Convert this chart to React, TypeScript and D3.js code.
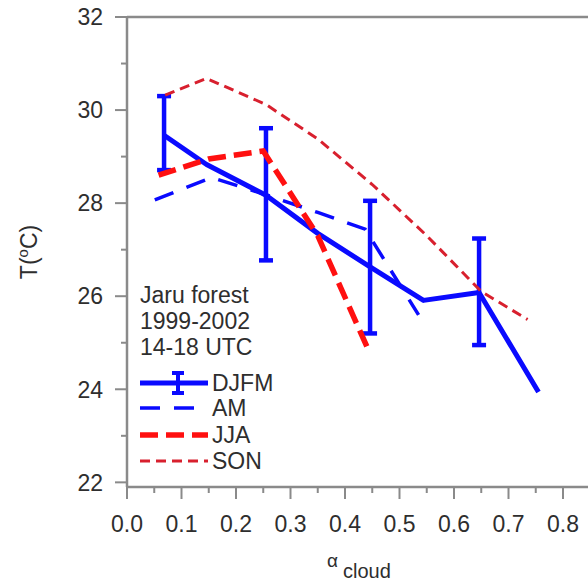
import React from "react";
import * as d3 from "d3";

// ---- data ----
const djfmX = [0.068, 0.146, 0.255, 0.35, 0.446, 0.544, 0.646, 0.755];
const djfmT = [29.46, 28.83, 28.17, 27.35, 26.63, 25.91, 26.08, 23.94];
const djfmErrX = [0.068, 0.255, 0.446, 0.646];
const djfmErrHigh = [30.3, 29.61, 28.05, 27.24];
const djfmErrLow = [28.71, 26.77, 25.2, 24.95];

const amX = [0.051, 0.155, 0.255, 0.35, 0.437, 0.535];
const amT = [28.07, 28.55, 28.18, 27.8, 27.44, 25.6];

const jjaX = [0.058, 0.15, 0.25, 0.35, 0.44];
const jjaT = [28.6, 28.95, 29.12, 27.3, 24.92];

const sonX = [0.07, 0.146, 0.255, 0.35, 0.45, 0.55, 0.65, 0.735];
const sonT = [30.32, 30.68, 30.12, 29.38, 28.4, 27.3, 26.1, 25.5];

const yMajorTicks = [22, 24, 26, 28, 30, 32];
const yMinorTicks = [23, 25, 27, 29, 31];
const xMajorTicks = [0, 0.1, 0.2, 0.3, 0.4, 0.5, 0.6, 0.7, 0.8];
const xMinorTicks = [0.05, 0.15, 0.25, 0.35, 0.45, 0.55, 0.65, 0.75, 0.85];

const annotation = ["Jaru forest", "1999-2002", "14-18 UTC"];
const legendNames = ["DJFM", "AM", "JJA", "SON"];

// ---- layout ----
const W = 588;
const H = 584;
const left = 127;
const top = 17;
const bottom = 487;
const right = 620;

const BLUE = "#0a0aff";
const RED = "#ff1010";
const RED2 = "#d8202e";
const AXIS = "#8a8a8a";
const TEXT = "#2e2e2e";
const FONT = "'Liberation Sans', Arial, sans-serif";
const FS = 23;

const x = d3.scaleLinear().domain([0, 0.9]).range([left, left + 0.9 * 545]);
const y = d3.scaleLinear().domain([21.9, 32]).range([bottom, top]);

const lineGen = d3
  .line<[number, number]>()
  .x((d) => x(d[0]))
  .y((d) => y(d[1]));

const zip = (xs: number[], ys: number[]) =>
  xs.map((v, i) => [v, ys[i]] as [number, number]);

const styles = [
  { color: BLUE, width: 5, dash: "none" },
  { color: BLUE, width: 3.5, dash: "20 14" },
  { color: RED, width: 5.5, dash: "18 8" },
  { color: RED2, width: 3, dash: "10 6" },
];

export default function App() {
  const legendX0 = 140;
  const legendX1 = 208;
  const legendY = [383, 408, 435, 461];
  return (
    <div style={{ position: "fixed", left: 0, top: 0, background: "#fff" }}>
      <svg width={W} height={H} style={{ display: "block" }} fontFamily={FONT}>
        <rect width={W} height={H} fill="#ffffff" />
        {/* frame */}
        <line x1={left} x2={right} y1={top} y2={top} stroke={AXIS} strokeWidth={2.5} />
        <line x1={left} x2={right} y1={bottom} y2={bottom} stroke={AXIS} strokeWidth={2.5} />
        <line x1={left} x2={left} y1={top} y2={bottom} stroke={AXIS} strokeWidth={2.5} />

        {/* y ticks */}
        {yMajorTicks.map((t) => (
          <g key={"ym" + t}>
            <line x1={left - 12} x2={left} y1={y(t)} y2={y(t)} stroke={AXIS} strokeWidth={2} />
            <text
              x={left - 24}
              y={y(t)}
              dy="0.36em"
              textAnchor="end"
              fontSize={FS}
              fill={TEXT}
            >
              {t}
            </text>
          </g>
        ))}
        {yMinorTicks.map((t) => (
          <line key={"yn" + t} x1={left - 6} x2={left} y1={y(t)} y2={y(t)} stroke={AXIS} strokeWidth={2} />
        ))}

        {/* x ticks */}
        {xMajorTicks.map((t) => (
          <g key={"xm" + t}>
            <line x1={x(t)} x2={x(t)} y1={bottom} y2={bottom + 12} stroke={AXIS} strokeWidth={2} />
            <text x={x(t)} y={532} textAnchor="middle" fontSize={FS} fill={TEXT}>
              {d3.format(".1f")(t)}
            </text>
          </g>
        ))}
        {xMinorTicks.map((t) => (
          <line key={"xn" + t} x1={x(t)} x2={x(t)} y1={bottom} y2={bottom + 6} stroke={AXIS} strokeWidth={2} />
        ))}

        {/* axis titles */}
        <text
          transform={`translate(37,252) rotate(-90)`}
          textAnchor="middle"
          fontSize={FS}
          fill={TEXT}
        >
          T(
          <tspan fontSize={15} dy={-9}>
            o
          </tspan>
          <tspan dy={9}>C)</tspan>
        </text>
        <text x={327} y={567} fontSize={19} fill={TEXT}>
          α
        </text>
        <text x={343} y={578} fontSize={20} fill={TEXT}>
          cloud
        </text>

        {/* series */}
        <path d={lineGen(zip(djfmX, djfmT)) || ""} fill="none" stroke={BLUE} strokeWidth={5} strokeLinejoin="round" />
        {djfmErrX.map((xv, i) => (
          <g key={"err" + i} stroke={BLUE} strokeWidth={4.5}>
            <line x1={x(xv)} x2={x(xv)} y1={y(djfmErrHigh[i])} y2={y(djfmErrLow[i])} />
            <line x1={x(xv) - 7} x2={x(xv) + 7} y1={y(djfmErrHigh[i])} y2={y(djfmErrHigh[i])} />
            <line x1={x(xv) - 7} x2={x(xv) + 7} y1={y(djfmErrLow[i])} y2={y(djfmErrLow[i])} />
          </g>
        ))}
        <path d={lineGen(zip(amX, amT)) || ""} fill="none" stroke={BLUE} strokeWidth={3.5} strokeDasharray="20 14" />
        <path d={lineGen(zip(jjaX, jjaT)) || ""} fill="none" stroke={RED} strokeWidth={5.5} strokeDasharray="18 8" />
        <path d={lineGen(zip(sonX, sonT)) || ""} fill="none" stroke={RED2} strokeWidth={3} strokeDasharray="10 6" />

        {/* annotation */}
        {annotation.map((s, i) => (
          <text key={s} x={140} y={303 + i * 26} fontSize={FS} fill={TEXT}>
            {s}
          </text>
        ))}

        {/* legend */}
        {legendNames.map((name, i) => {
          const st = styles[i];
          const ly = legendY[i];
          return (
            <g key={name}>
              <line
                x1={legendX0}
                x2={legendX1}
                y1={ly}
                y2={ly}
                stroke={st.color}
                strokeWidth={st.width}
                strokeDasharray={st.dash}
              />
              {i === 0 && (
                <g stroke={BLUE} strokeWidth={4}>
                  <line x1={178} x2={178} y1={ly - 10} y2={ly + 10} />
                  <line x1={172} x2={184} y1={ly - 10} y2={ly - 10} />
                  <line x1={172} x2={184} y1={ly + 10} y2={ly + 10} />
                </g>
              )}
              <text x={212} y={ly} dy="0.36em" fontSize={FS} fill={TEXT}>
                {name}
              </text>
            </g>
          );
        })}
      </svg>
    </div>
  );
}
